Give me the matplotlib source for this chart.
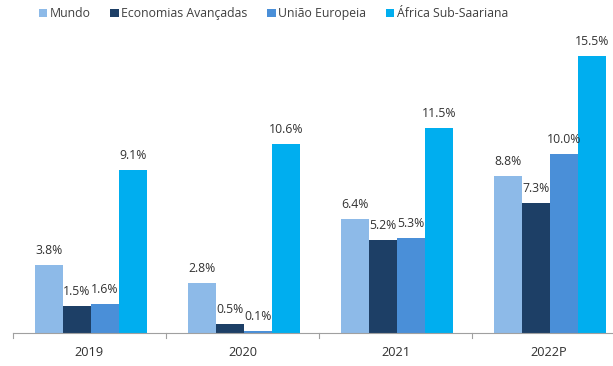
import matplotlib
matplotlib.use("Agg")
import matplotlib.pyplot as plt
import numpy as np
from matplotlib.patches import Patch

plt.rcParams['font.family'] = ['Open Sans', 'DejaVu Sans']

years = ["2019", "2020", "2021", "2022P"]
series = ["Mundo", "Economias Avançadas", "União Europeia", "África Sub-Saariana"]
mundo = [3.8, 2.8, 6.4, 8.8]
avancadas = [1.5, 0.5, 5.2, 7.3]
ue = [1.6, 0.1, 5.3, 10.0]
africa = [9.1, 10.6, 11.5, 15.5]
colors = ["#8DBAE8", "#1D3F66", "#4A8FD8", "#00AEEF"]

fig = plt.figure(figsize=(6.13, 3.66), dpi=100)
ax = fig.add_axes([0.021, 0.09, 0.979, 0.83])

x = np.arange(len(years))
w = 0.183
values = [mundo, avancadas, ue, africa]
for i, (vals, c) in enumerate(zip(values, colors)):
    pos = x + (i - 1.5) * w + 0.01
    ax.bar(pos, vals, width=w, color=c, edgecolor='none')
    for p, v in zip(pos, vals):
        ax.text(p, v + 0.45, f"{v:.1f}%", ha='center', va='bottom',
                fontsize=8.8, color='#333333')

ax.set_xlim(-0.5, 3.42)
ax.set_ylim(0, 17)
for s in ['top', 'right', 'left']:
    ax.spines[s].set_visible(False)
ax.spines['bottom'].set_color('#a0a0a0')
ax.set_yticks([])
ax.set_xticks(x)
ax.set_xticklabels(years, fontsize=9.2, color='#303030')
ax.tick_params(axis='x', length=0, pad=9)
for b in [-0.5, 0.5, 1.5, 2.5]:
    ax.plot([b, b], [0, -0.3], color='#a0a0a0', lw=0.8, clip_on=False)

handles = [Patch(facecolor=c, edgecolor='none') for c in colors]
fig.legend(handles, series, loc='upper left', bbox_to_anchor=(0.045, 1.01),
           ncol=4, frameon=False, fontsize=8.8, handlelength=0.7,
           handleheight=0.7, handletextpad=0.2, columnspacing=1.6,
           labelcolor='#404040')

fig.savefig("out.png", dpi=100)
